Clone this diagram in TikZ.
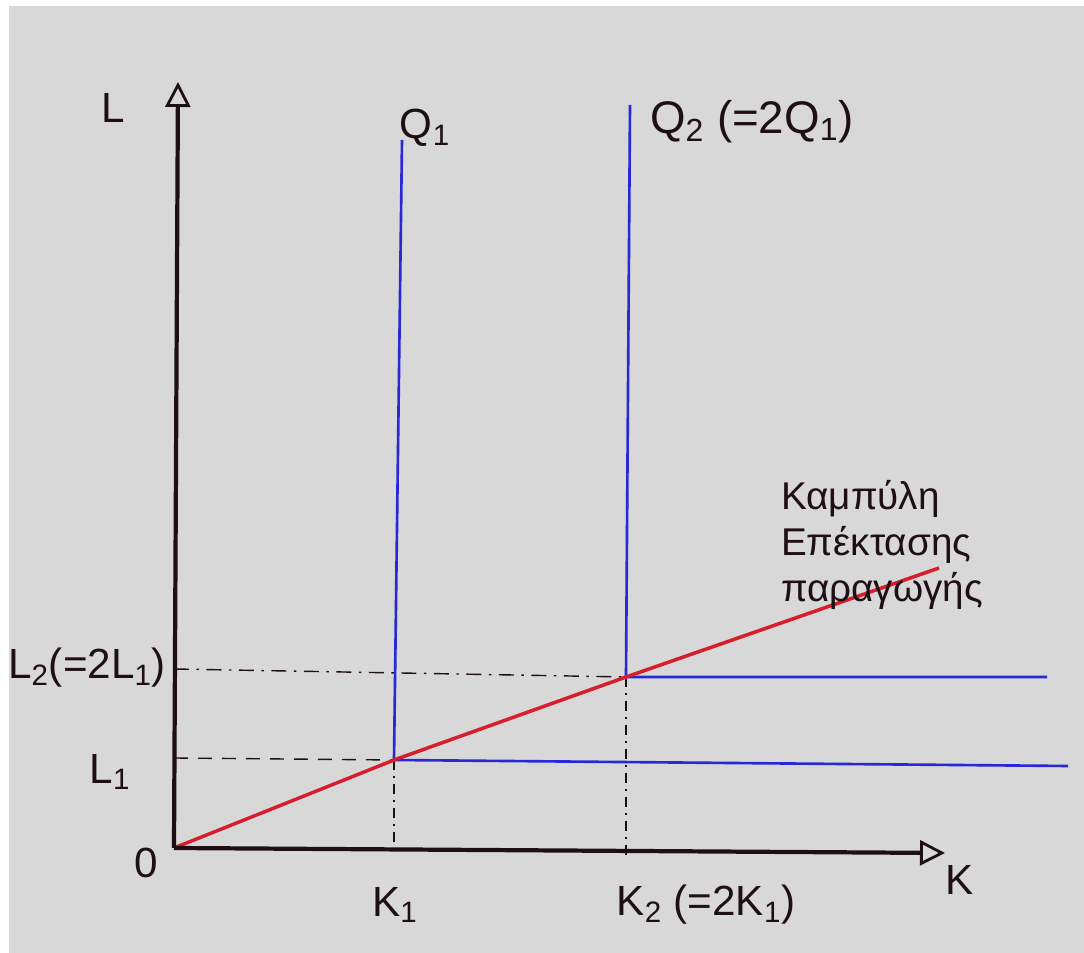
\documentclass[tikz,border=0pt]{standalone}
\usepackage{fontspec}
\setmainfont{Liberation Sans}
\usetikzlibrary{arrows.meta}
\definecolor{paper}{RGB}{216,216,216}
\definecolor{isoblue}{RGB}{40,40,215}
\definecolor{pathred}{RGB}{215,30,45}
\definecolor{ink}{RGB}{30,15,20}
\begin{document}
\begin{tikzpicture}[font=\fontsize{24}{28}\selectfont,
  axis/.style={ink,line width=2.4pt,-{Triangle[open,length=0.5cm,width=0.5cm,line width=1.6pt]}},
  iso/.style={isoblue,line width=1.5pt},
  guide/.style={ink,line width=0.8pt},
  lbl/.style={ink,inner sep=1pt}]
\fill[white] (-3.48,-2.1) rectangle (18.2,16.96);
\fill[paper] (-3.3,-2.1) rectangle (18.2,16.84);
\useasboundingbox (-3.48,-2.1) rectangle (18.2,16.96);
% points of the diagram
\coordinate (O) at (0,0);
\coordinate (Ytip) at (0.08,15.32);
\coordinate (Xtip) at (15.42,-0.1);
\coordinate (E1) at (4.4,1.76);
\coordinate (E2) at (9.04,3.42);
\coordinate (L1) at (0,1.8);
\coordinate (L2) at (0,3.58);
\coordinate (K1) at (4.4,0);
\coordinate (K2) at (9.04,-0.24);
\coordinate (Q1top) at (4.56,14.16);
\coordinate (Q1end) at (17.88,1.64);
\coordinate (Q2top) at (9.12,14.86);
\coordinate (Q2end) at (17.46,3.42);
\coordinate (Rend) at (15.3,5.6);
% guides
\draw[guide,dash pattern=on 0.28cm off 0.2cm] (L1) -- (E1);
\draw[guide,dash pattern=on 0.3cm off 0.15cm on 0.05cm off 0.15cm] (L2) -- (E2);
\draw[guide,dash pattern=on 0.2cm off 0.12cm on 0.04cm off 0.12cm] (E1) -- (K1);
\draw[guide,dash pattern=on 0.2cm off 0.12cm on 0.04cm off 0.12cm] (E2) -- (K2);
% isoquants
\draw[iso] (Q1top) -- (E1) -- (Q1end);
\draw[iso] (Q2top) -- (E2) -- (Q2end);
% expansion path
\draw[pathred,line width=2pt,line join=round] (O) -- (E1) -- (E2) -- (Rend);
% axes
\draw[axis] (O) -- (Ytip);
\draw[axis] (O) -- (Xtip);
% labels
\node[lbl] (labL) at (-1.22,14.8) {L};
\node[lbl] (labK) at (15.72,-0.64) {K};
\node[lbl] (labO) at (-0.56,-0.3) {0};
\node[lbl] (labL1) at (-1.28,1.52) {L\textsubscript{1}};
\node[lbl,anchor=east] (labL2) at (-0.12,3.6) {L\textsubscript{2}(=2L\textsubscript{1})};
\node[lbl] (labK1) at (4.42,-1.14) {K\textsubscript{1}};
\node[lbl] (labK2) at (10.64,-1.14) {K\textsubscript{2} (=2K\textsubscript{1})};
\node[lbl] (labQ1) at (5.02,14.4) {Q\textsubscript{1}};
\node[lbl,font=\fontsize{26}{30}\selectfont] (labQ2) at (11.56,14.52) {Q\textsubscript{2} (=2Q\textsubscript{1})};
\node[lbl,align=left,anchor=west,font=\fontsize{22}{26}\selectfont] (labpath) at (12.1,6.06) {Καμπύλη\\Επέκτασης\\παραγωγής};
\end{tikzpicture}
\end{document}
